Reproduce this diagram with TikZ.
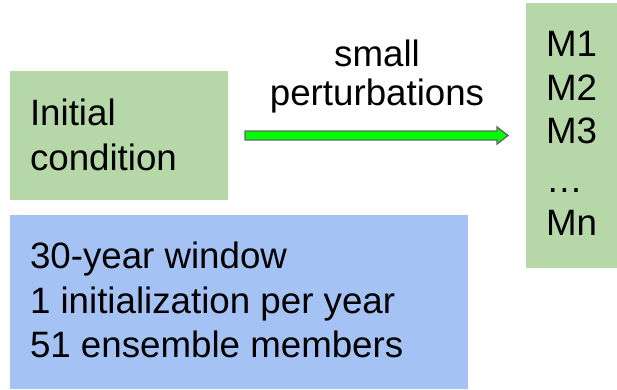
\documentclass[tikz,border=0pt]{standalone}
\usepackage{fontspec}
\setmainfont{Liberation Sans}
\usetikzlibrary{calc}
\definecolor{boxgreen}{HTML}{B6D7A8}
\definecolor{boxblue}{HTML}{A4C2F4}
\definecolor{arrowgreen}{HTML}{00FF00}
\definecolor{arrowedge}{HTML}{666666}
\tikzset{
  panel/.style={draw=none, inner sep=0pt, outer sep=0pt, anchor=south west},
  txt/.style={anchor=base west, inner sep=0pt, outer sep=0pt, font=\fontsize{36.7}{44}\selectfont},
  ctxt/.style={anchor=base, inner sep=0pt, outer sep=0pt, font=\fontsize{36.7}{44}\selectfont},
  arrowbody/.style={fill=arrowgreen, draw=arrowedge, line width=1.4pt, line join=miter}
}
\begin{document}
\begin{tikzpicture}[x=1pt,y=1pt]
\useasboundingbox (0,0) rectangle (617,389);
% boxes
\node[panel, fill=boxgreen, minimum width=218pt, minimum height=129pt] (ic) at (10,189) {};
\node[panel, fill=boxgreen, minimum width=91pt, minimum height=265pt] (m) at (526,121) {};
\node[panel, fill=boxblue, minimum width=458pt, minimum height=174pt] (win) at (10,0) {};
% texts
\node[txt] (ic1) at (30,264) {Initial};
\node[txt] (ic2) at (30,219) {condition};
\node[txt] (w1) at (30,121) {30-year window};
\node[txt] (w2) at (30,76) {1 initialization per year};
\node[txt] (w3) at (30,32) {51 ensemble members};
\node[txt] (m1) at (546,332) {M1};
\node[txt] (m2) at (546,289) {M2};
\node[txt] (m3) at (546,246) {M3};
\node[txt] (m4) at (546,197) {\dots};
\node[txt] (mn) at (546,154) {Mn};
\node[ctxt] (l1) at (377,322) {small};
\node[ctxt] (l2) at (377,284) {perturbations};
% arrow
\coordinate (a) at ($(ic.east)+(17,0)$);
\coordinate (b) at ($(m.west)+(-18,0)$);
\draw[arrowbody] ($(a)+(0,4.5)$) -- ($(b)+(-11,4.5)$) -- ($(b)+(-11,8.5)$) -- (b)
  -- ($(b)+(-11,-8.5)$) -- ($(b)+(-11,-4.5)$) -- ($(a)+(0,-4.5)$) -- cycle;
\end{tikzpicture}
\end{document}
